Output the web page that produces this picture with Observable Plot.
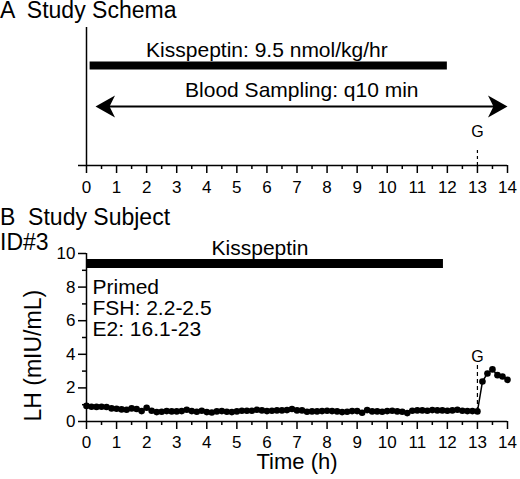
<!DOCTYPE html>
<html>
<head>
<meta charset="utf-8">
<script src="https://cdn.jsdelivr.net/npm/d3@7"></script>
<script src="https://cdn.jsdelivr.net/npm/@observablehq/plot@0.6"></script>
<style>
  html, body { margin: 0; padding: 0; background: #fff; }
  #wrap { position: relative; width: 520px; height: 479px; overflow: hidden; font-family: "Liberation Sans", Arial, sans-serif; color: #000; }
  .ttl { position: absolute; left: 0; font-size: 23px; line-height: 20px; white-space: pre; }
  .panel { position: absolute; left: 0; }
</style>
</head>
<body>
<div id="wrap">
  <div class="panel" id="pa" style="top:0px"></div>
  <div class="panel" id="pb" style="top:200px"></div>
  <div class="ttl" style="top:0px">A  Study Schema</div>
  <div class="ttl" style="top:207px">B  Study Subject</div>
  <div class="ttl" style="top:232px">ID#3</div>
</div>
<script>
// ---- data ----
const xMajorTicks = [0,1,2,3,4,5,6,7,8,9,10,11,12,13,14];
const xMinorTicks = [0.5,1.5,2.5,3.5,4.5,5.5,6.5,7.5,8.5,9.5,10.5,11.5,12.5,13.5];
const yMajorTicks = [0,2,4,6,8,10];
const yMinorTicks = [1,3,5,7,9];

// Schema (panel A)
const kissLabelA = "Kisspeptin: 9.5 nmol/kg/hr";
const kissInfusionA = [0.12, 12];
const samplingLabel = "Blood Sampling: q10 min";
const samplingSpan = [0.3, 14];
const gnrhTime = 13;
const gnrhLabel = "G";

// Study subject (panel B)
const kissLabelB = "Kisspeptin";
const kissInfusionB = [0, 11.87];
const subjectNotes = ["Primed", "FSH: 2.2-2.5", "E2: 16.1-23"];
// LH sampled every 10 min, 0 h .. 14 h
const lhValues = [
  0.93,0.88,0.87,0.88,0.86,0.78,
  0.76,0.72,0.70,0.78,0.74,0.62,
  0.82,0.64,0.56,0.58,0.62,0.60,
  0.60,0.62,0.70,0.62,0.58,0.64,
  0.56,0.54,0.60,0.62,0.58,0.56,
  0.60,0.64,0.64,0.64,0.70,0.66,
  0.62,0.64,0.66,0.66,0.68,0.74,
  0.66,0.66,0.58,0.60,0.60,0.62,
  0.64,0.62,0.60,0.56,0.58,0.62,
  0.62,0.52,0.68,0.60,0.60,0.58,
  0.62,0.64,0.60,0.58,0.50,0.64,
  0.66,0.66,0.64,0.68,0.66,0.66,
  0.64,0.66,0.70,0.64,0.62,0.62,
  0.60,
  2.38,2.86,3.10,2.76,2.68,2.48
];
const lhTimes = lhValues.map((_, i) => i / 6);
const lhRows = lhValues.map((v, i) => ({t: lhTimes[i], lh: v}));

// ---- drawing ----
const FONT = '"Liberation Sans", Arial, sans-serif';
const stealth = {
  draw(context, size) {
    const s = Math.sqrt(size);
    const L = s * 1.1, H = s * 0.62;
    context.moveTo(0, 0);
    context.lineTo(-L, -H);
    context.lineTo(-L * 0.72, 0);
    context.lineTo(-L, H);
    context.closePath();
  }
};

const axisStyle = {fontFamily: FONT, fontSize: "17px", color: "#000", background: "#fff"};

const plotA = Plot.plot({
  width: 520, height: 200,
  marginLeft: 86, marginRight: 13, marginTop: 27, marginBottom: 35,
  x: {domain: [0, 14]},
  y: {domain: [0, 10], axis: null},
  style: axisStyle,
  marks: [
    Plot.ruleX([0], {strokeWidth: 1.5}),
    Plot.ruleY([0], {insetLeft: -8, strokeWidth: 1.5}),
    Plot.axisX(xMajorTicks, {tickSize: 8, tickPadding: 7, strokeWidth: 1.5, fontSize: 17, label: null}),
    Plot.axisX(xMinorTicks, {tickSize: 4, strokeWidth: 1.5, tickFormat: () => "", label: null}),
    Plot.ruleY([7.25], {x1: kissInfusionA[0], x2: kissInfusionA[1], strokeWidth: 8}),
    Plot.text([kissLabelA], {text: d => d, x: 6, y: 8.33, fontSize: 21}),
    Plot.ruleY([4.28], {x1: samplingSpan[0] + 0.3, x2: samplingSpan[1] - 0.3, strokeWidth: 2}),
    Plot.dot(samplingSpan, {x: d => d, y: 4.28, symbol: stealth, r: 10, fill: "#000", stroke: null, rotate: (d, i) => i === 0 ? 180 : 0}),
    Plot.text([samplingLabel], {text: d => d, x: 7.16, y: 5.43, fontSize: 21}),
    Plot.text([gnrhLabel], {text: d => d, x: gnrhTime, y: 2.46, fontSize: 16}),
    Plot.ruleX([gnrhTime], {y1: 0, y2: 1.23, strokeDasharray: "3,3", strokeWidth: 1.2})
  ]
});
document.getElementById("pa").append(plotA);

const plotB = Plot.plot({
  width: 520, height: 279,
  marginLeft: 86, marginRight: 13, marginTop: 53, marginBottom: 58,
  x: {domain: [0, 14]},
  y: {domain: [0, 10]},
  style: axisStyle,
  marks: [
    Plot.ruleX([0], {strokeWidth: 1.5}),
    Plot.ruleY([0], {strokeWidth: 1.5}),
    Plot.axisX(xMajorTicks, {tickSize: 8, tickPadding: 6, strokeWidth: 1.5, fontSize: 17, label: null}),
    Plot.axisX(xMinorTicks, {tickSize: 4, strokeWidth: 1.5, tickFormat: () => "", label: null}),
    Plot.axisY(yMajorTicks, {tickSize: 8, tickPadding: 3, strokeWidth: 1.5, fontSize: 17, label: null}),
    Plot.axisY(yMinorTicks, {tickSize: 4, strokeWidth: 1.5, tickFormat: () => "", label: null}),
    Plot.text(["LH (mIU/mL)"], {text: d => d, frameAnchor: "bottom-left", rotate: -90, textAnchor: "start", dx: -46, fontSize: 23}),
    Plot.text(["Time (h)"], {text: d => d, frameAnchor: "bottom", dy: 47, fontSize: 22}),
    Plot.ruleY([9.4], {x1: kissInfusionB[0], x2: kissInfusionB[1], strokeWidth: 9}),
    Plot.text([kissLabelB], {text: d => d, x: 5.77, y: 10.3, fontSize: 21}),
    Plot.text([subjectNotes.join("\n")], {text: d => d, x: 0.2, y: 8.49, textAnchor: "start", lineAnchor: "top", lineHeight: 1, fontSize: 21}),
    Plot.ruleX([gnrhTime], {y1: 0.6, y2: 3.4, strokeDasharray: "4,3", strokeWidth: 1.2}),
    Plot.text([gnrhLabel], {text: d => d, x: gnrhTime, y: 3.83, fontSize: 16}),
    Plot.line(lhRows, {x: "t", y: "lh", strokeWidth: 1.5}),
    Plot.dot(lhRows, {x: "t", y: "lh", r: 3.3, fill: "#000", stroke: null})
  ]
});
document.getElementById("pb").append(plotB);
</script>
</body>
</html>
